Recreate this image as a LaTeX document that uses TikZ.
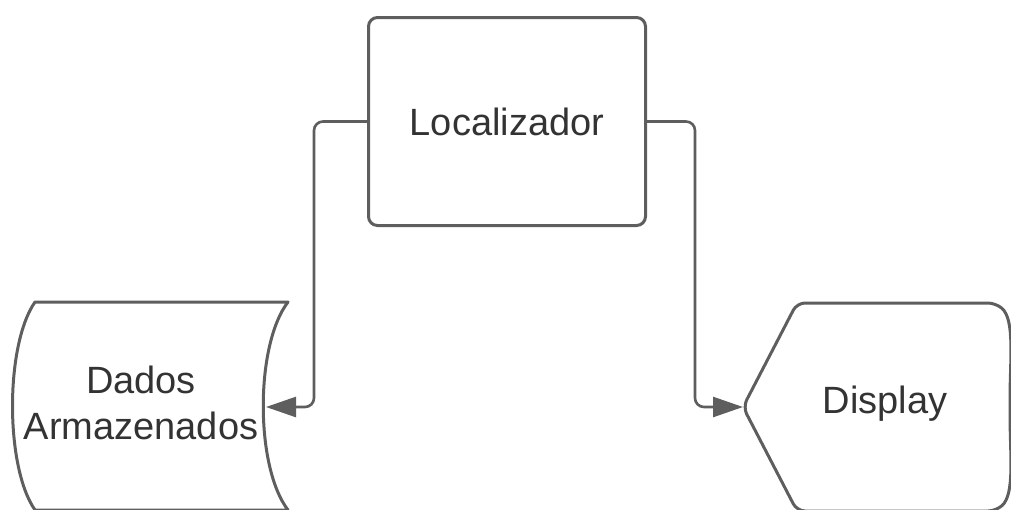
\documentclass[tikz,border=0pt]{standalone}
\usepackage{fontspec}
\setmainfont{Liberation Sans}
\usetikzlibrary{arrows.meta}

\definecolor{linegray}{HTML}{5E5E5E}
\definecolor{textgray}{HTML}{333333}

\tikzset{
    shapeline/.style={draw=linegray, line width=3pt, line join=round},
    flow/.style={draw=linegray, line width=2.6pt, rounded corners=9pt,
        -{Triangle[length=30pt, width=20pt]}},
    label/.style={text=textgray, font=\fontsize{38}{46}\selectfont, align=center}
}

\begin{document}
\begin{tikzpicture}[x=1pt, y=-1pt]
        \useasboundingbox (0,0) rectangle (1011,509);

        % Top box
        \node[shapeline, rounded corners=9pt, minimum width=277pt, minimum height=208pt,
              label, inner sep=0pt] (loc) at (507,121.5) {Localizador};

        % Stored data shape (left)
        \coordinate (d1) at (35,302);
        \coordinate (d2) at (288,302);
        \coordinate (d3) at (288,510);
        \coordinate (d4) at (35,510);
        \draw[shapeline] (d1) -- (d2)
            .. controls (255,345) and (255,467) .. (d3) -- (d4)
            .. controls (5,467) and (5,345) .. cycle;
        \node[label] (dados) at (141,403) {Dados\\Armazenados};

        % Display shape (right)
        \coordinate (p0) at (743,407);
        \coordinate (p1) at (797,303);
        \coordinate (p2) at (996,303);
        \coordinate (p3) at (996,511);
        \coordinate (p4) at (797,511);
        \draw[shapeline, rounded corners=8pt] (p0) -- (p1) -- (p2)
            .. controls (1015,320) and (1010,360) .. (1010,407)
            .. controls (1010,454) and (1015,494) .. (p3) -- (p4) -- cycle;
        \node[label] (disp) at (885,404) {Display};

        % Arrow ends and bends
        \coordinate (dadosin) at (266,407);
        \coordinate (dispin) at (743,407);
        \coordinate (lbend) at (314,260);
        \coordinate (rbend) at (695,260);

        % Connectors
        \draw[flow] (loc.west) -| (lbend) |- (dadosin);
        \draw[flow] (loc.east) -| (rbend) |- (dispin);

    \end{tikzpicture}
\end{document}
